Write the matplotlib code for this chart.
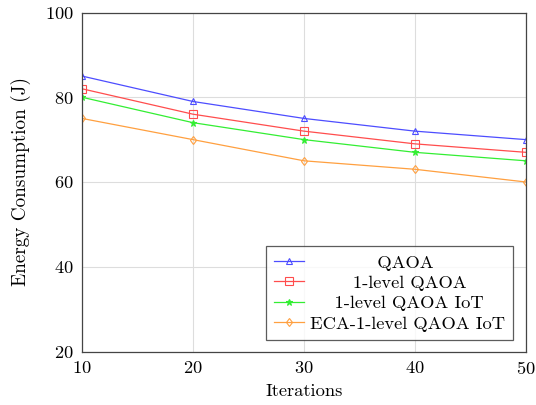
import matplotlib
matplotlib.use("Agg")
import matplotlib.pyplot as plt

iterations = [10, 20, 30, 40, 50]
qaoa = [85, 79, 75, 72, 70]
qaoa_1level = [82, 76, 72, 69, 67]
qaoa_1level_iot = [80, 74, 70, 67, 65]
eca_qaoa_iot = [75, 70, 65, 63, 60]
labels = ["QAOA", "1-level QAOA", "1-level QAOA IoT", "ECA-1-level QAOA IoT"]
xticks = [10, 20, 30, 40, 50]
yticks = [20, 40, 60, 80, 100]

plt.rcParams['font.family'] = ['cmr10', 'DejaVu Serif']
plt.rcParams['mathtext.fontset'] = 'cm'
plt.rcParams['axes.formatter.use_mathtext'] = True
FS = 13.3
plt.rcParams['font.size'] = FS

fig = plt.figure(figsize=(5.36, 4.05), dpi=100)
ax = fig.add_axes([82/536, 1-351.5/405, (526-82)/536, (351.5-12.5)/405])

series = [qaoa, qaoa_1level, qaoa_1level_iot, eca_qaoa_iot]
colors = ['#4d4dff', '#ff4d4d', '#33ee33', '#ffa040']
markers = ['^', 's', '*', 'd']
msizes = [5, 5.5, 5, 4.5]
lines = []
for ys, c, m, ms in zip(series, colors, markers, msizes):
    ln, = ax.plot(iterations, ys, color=c, marker=m, markersize=ms, lw=0.9,
                  markerfacecolor='none' if m != '*' else c, markeredgecolor=c,
                  markeredgewidth=0.8)
    lines.append(ln)

ax.set_xlim(10, 50)
ax.set_ylim(20, 100)
ax.set_xticks(xticks)
ax.set_yticks(yticks)
ax.grid(True, color='#dddddd', lw=0.8)
ax.set_axisbelow(True)
ax.tick_params(length=0, labelsize=FS, pad=6)
for s in ax.spines.values():
    s.set_color('#444444')
    s.set_linewidth(0.9)
ax.set_xlabel("Iterations", fontsize=FS, labelpad=5)
ax.set_ylabel("Energy Consumption (J)", fontsize=FS + 0.5, labelpad=10)

# center legend labels by padding with spaces
renderer = fig.canvas.get_renderer()
def textw(s):
    t = fig.text(0, 0, s, fontsize=FS)
    w = t.get_window_extent(renderer).width
    t.remove()
    return w
wmax = max(textw(l) for l in labels)
sw = textw("a a") - textw("aa")
padded = []
for l in labels:
    n = int(round((wmax - textw(l)) / 2 / sw))
    padded.append(" " * n + l)

leg = ax.legend(lines, padded, loc='lower right', bbox_to_anchor=(0.9707, 0.034),
                fontsize=FS, frameon=True, fancybox=False, edgecolor='#333333',
                handlelength=1.6, handletextpad=0.3, borderpad=0.45,
                labelspacing=0.24, borderaxespad=0.0)
leg.get_frame().set_linewidth(0.9)

fig.savefig("out.png", dpi=100)
